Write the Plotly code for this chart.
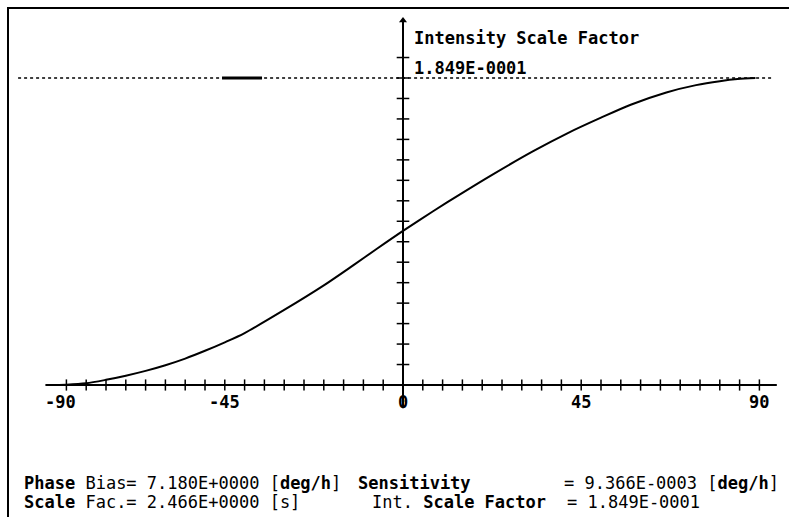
import numpy as np
import plotly.graph_objects as go

# ---- data ----
phase_deg = [-90, -85, -80, -75, -70, -65, -60, -55, -50, -45, -40, -30, -20, -12.5,
             -6.5, 0, 7.5, 14.5, 22.5, 33, 41.5, 50, 57.5, 66.5, 74, 80, 84.5, 89]
intensity = [0.0, 0.0002, 0.0010, 0.0031, 0.0056, 0.0085, 0.0119, 0.0159, 0.0206,
             0.0257, 0.0313, 0.0452, 0.0600, 0.0722, 0.0822, 0.0928, 0.1045, 0.1150,
             0.1266, 0.1410, 0.1516, 0.1610, 0.1688, 0.1762, 0.1806, 0.1830, 0.1843, 0.1849]

int_scale_factor = 0.1849
x_tick_labels = [-90, -45, 0, 45, 90]
x_minor_ticks = list(range(-85, 95, 5))
y_divisions = 15          # y-axis tick marks divide the scale factor in 15 steps
y_tick_count = 16
cursor_span = [-45.7, -35.6]   # short bold marker on the dotted line

title_text = "Intensity Scale Factor"
value_text = "1.849E-0001"
info_lines = [
    ("<b>Phase</b> Bias= 7.180E+0000 [<b>deg/h</b>]", 22, 483),
    ("<b>Sensitivity</b>", 356, 483),
    ("= 9.366E-0003 [<b>deg/h</b>]", 562, 483),
    ("<b>Scale</b> Fac.= 2.466E+0000 [s]", 22, 502),
    ("Int. <b>Scale Factor</b>", 370, 502),
    ("= 1.849E-0001", 565, 502),
]

W, H = 789, 517
FONT = "DejaVu Sans Mono"
FS = 17

y_step = int_scale_factor / y_divisions
y_ticks = [y_step * i for i in range(1, y_tick_count + 1)]

fig = go.Figure()

# axes lines
fig.add_shape(type="line", x0=-90.3, x1=94.4, y0=0, y1=0,
              line=dict(color="black", width=2), layer="below")
fig.add_shape(type="line", x0=0, x1=0, y0=-0.014, y1=0.2195,
              line=dict(color="black", width=2), layer="below")
# dotted max line
fig.add_shape(type="line", x0=-97.2, x1=93.0, y0=int_scale_factor, y1=int_scale_factor,
              line=dict(color="black", width=1.5, dash="dot"), layer="below")
fig.add_shape(type="line", x0=cursor_span[0], x1=cursor_span[1],
              y0=int_scale_factor, y1=int_scale_factor,
              line=dict(color="black", width=3))

# frame (top and left border)
fig.add_shape(type="line", xref="paper", yref="paper", x0=7 / W, x1=1,
              y0=1 - 8 / H, y1=1 - 8 / H, line=dict(color="black", width=2))
fig.add_shape(type="line", xref="paper", yref="paper", x0=8 / W, x1=8 / W,
              y0=0, y1=1 - 8 / H, line=dict(color="black", width=2))

# tick marks
fig.add_trace(go.Scatter(x=x_minor_ticks, y=[0] * len(x_minor_ticks), mode="markers",
                         marker=dict(symbol="line-ns", size=8,
                                     line=dict(color="black", width=1.5)),
                         hoverinfo="skip", showlegend=False))
fig.add_trace(go.Scatter(x=[0] * len(y_ticks), y=y_ticks, mode="markers",
                         marker=dict(symbol="line-ew", size=9,
                                     line=dict(color="black", width=1.5)),
                         hoverinfo="skip", showlegend=False))
# arrow head
fig.add_trace(go.Scatter(x=[0], y=[0.2195], mode="markers",
                         marker=dict(symbol="triangle-up", size=7, color="black"),
                         hoverinfo="skip", showlegend=False))

# curve
fig.add_trace(go.Scatter(x=phase_deg, y=intensity, mode="lines",
                         line=dict(color="black", width=2, shape="spline", smoothing=0.8),
                         showlegend=False))

# x tick labels
for v in x_tick_labels:
    fig.add_annotation(x=v, y=0, xref="x", yref="y", text=f"<b>{v}</b>",
                       showarrow=False, yshift=-17, xshift=14 if v == -90 else 0,
                       font=dict(family=FONT, size=FS, color="black"))

# titles
fig.add_annotation(xref="paper", yref="paper", x=412 / W, y=1 - 38 / H,
                   xanchor="left", yanchor="middle", text=f"<b>{title_text}</b>",
                   showarrow=False, font=dict(family=FONT, size=FS, color="black"))
fig.add_annotation(xref="paper", yref="paper", x=412 / W, y=1 - 68 / H,
                   xanchor="left", yanchor="middle", text=f"<b>{value_text}</b>",
                   showarrow=False, font=dict(family=FONT, size=FS, color="black"))

for txt, px, py in info_lines:
    fig.add_annotation(xref="paper", yref="paper", x=px / W, y=1 - py / H,
                       xanchor="left", yanchor="middle", text=txt, showarrow=False,
                       font=dict(family=FONT, size=FS, color="black"))

k = int_scale_factor / 307.0
fig.update_layout(
    width=W, height=H, margin=dict(l=0, r=0, t=0, b=0),
    paper_bgcolor="white", plot_bgcolor="white",
    xaxis=dict(range=[(0 - 403) / 3.96, (W - 403) / 3.96], visible=False, fixedrange=True),
    yaxis=dict(range=[-(H - 385) * k, 385 * k], visible=False, fixedrange=True),
)

fig.write_html("out.html")
